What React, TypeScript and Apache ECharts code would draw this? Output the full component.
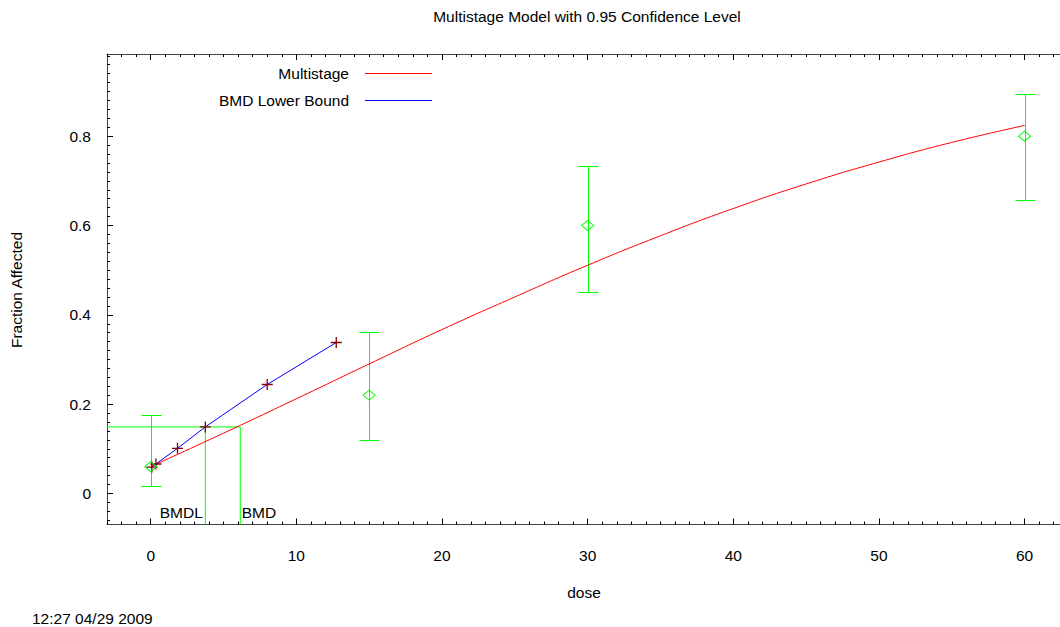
import React, { useEffect, useRef } from "react";
import * as echarts from "echarts";

const TITLE = "Multistage Model with 0.95 Confidence Level";
const X_NAME = "dose";
const Y_NAME = "Fraction Affected";
const TIMESTAMP = "12:27 04/29 2009";
const LEGEND_MODEL = "Multistage";
const LEGEND_BMDL = "BMD Lower Bound";

// observed data with confidence intervals
const obsDose = [0, 15, 30, 60];
const obsMean = [0.06, 0.22, 0.6, 0.8];
const obsLow = [0.016, 0.12, 0.452, 0.658];
const obsHigh = [0.175, 0.362, 0.733, 0.895];

// fitted multistage curve
const curveDose = [0, 5, 10, 15, 20, 25, 30, 35, 40, 45, 50, 55, 60];
const curveFrac = [0.06, 0.135, 0.212, 0.29, 0.367, 0.44, 0.511, 0.577, 0.638, 0.693, 0.742, 0.786, 0.824];

// BMD lower bound line
const bmdlDose = [0.08, 0.36, 1.84, 3.75, 8.0, 12.74];
const bmdlFrac = [0.059, 0.066, 0.101, 0.149, 0.244, 0.338];

const BMDL = 3.75;
const BMD = 6.15;
const BMR_LEVEL = 0.149;
const BMD_LABEL_Y = -0.043;

const xTickLabels = [0, 10, 20, 30, 40, 50, 60];
const yTickLabels = [0, 0.2, 0.4, 0.6, 0.8];
const X_MIN = -3;
const X_MAX = 62.5;
const Y_MIN = -0.0695;
const Y_MAX = 0.984;

const xMinorTicks: number[] = [];
for (let i = -3; i <= 62; i++) xMinorTicks.push(i);
const yMinorTicks: number[] = [];
for (let i = -3; i <= 49; i++) yMinorTicks.push(+(i * 0.02).toFixed(2));

const FONT = "'Liberation Sans', Arial, Helvetica, sans-serif";
const FS = 15.5;
const GREEN = "#00ff00";
const RED = "#ff0000";
const BLUE = "#0000ff";
const CROSS = "#8b0000";
const PLUS = "path://M4.4,0H5.6V10H4.4Z M0,4.4H10V5.6H0Z";

export default function App() {
  const ref = useRef<HTMLDivElement>(null);
  useEffect(() => {
    if (!ref.current) return;
    const chart = echarts.init(ref.current, null, { renderer: "svg" });
    const txt = { color: "#000", fontSize: FS, fontFamily: FONT };
    const gtxt = { fill: "#000", fontSize: FS, fontFamily: FONT };
    const baseX = {
      type: "value",
      min: X_MIN,
      max: X_MAX,
      splitLine: { show: false },
    };
    const baseY = {
      type: "value",
      min: Y_MIN,
      max: Y_MAX,
      splitLine: { show: false },
    };
    const option: any = {
      animation: false,
      backgroundColor: "#fff",
      grid: { left: 107, top: 54, width: 954, height: 470.5, containLabel: false, outerBoundsMode: "none" },
      xAxis: [
        {
          ...baseX,
          position: "bottom",
          axisLine: { show: true, onZero: false, lineStyle: { color: "#444", width: 1 } },
          axisTick: { show: true, inside: true, length: 3, customValues: xMinorTicks, lineStyle: { color: "#000" } },
          axisLabel: { show: true, customValues: xTickLabels, margin: 23, ...txt },
          name: X_NAME,
          nameLocation: "middle",
          nameGap: 60,
          nameTextStyle: { ...txt },
        },
        {
          ...baseX,
          position: "bottom",
          axisLine: { show: false, onZero: false },
          axisTick: { show: true, inside: true, length: 6, customValues: xTickLabels, lineStyle: { color: "#000" } },
          axisLabel: { show: false },
        },
        {
          ...baseX,
          position: "top",
          axisLine: { show: true, onZero: false, lineStyle: { color: "#444", width: 1 } },
          axisTick: { show: true, inside: true, length: 3, customValues: xMinorTicks, lineStyle: { color: "#000" } },
          axisLabel: { show: false },
        },
        {
          ...baseX,
          position: "top",
          axisLine: { show: false, onZero: false },
          axisTick: { show: true, inside: true, length: 6, customValues: xTickLabels, lineStyle: { color: "#000" } },
          axisLabel: { show: false },
        },
      ],
      yAxis: [
        {
          ...baseY,
          position: "left",
          axisLine: { show: true, onZero: false, lineStyle: { color: "#444", width: 1 } },
          axisTick: { show: true, inside: true, length: 3, customValues: yMinorTicks, lineStyle: { color: "#000" } },
          axisLabel: {
            show: true,
            customValues: yTickLabels,
            margin: 16,
            formatter: (v: number) => String(+v.toFixed(1)),
            ...txt,
          },
        },
        {
          ...baseY,
          position: "left",
          axisLine: { show: false, onZero: false },
          axisTick: { show: true, inside: true, length: 6, customValues: yTickLabels, lineStyle: { color: "#000" } },
          axisLabel: { show: false },
        },
      ],
      series: [
        {
          name: LEGEND_MODEL,
          type: "line",
          xAxisIndex: 0,
          yAxisIndex: 0,
          data: curveDose.map((d, i) => [d, curveFrac[i]]),
          smooth: true,
          showSymbol: false,
          lineStyle: { color: RED, width: 1 },
          silent: true,
          z: 3,
        },
        {
          name: LEGEND_BMDL,
          type: "line",
          xAxisIndex: 0,
          yAxisIndex: 0,
          data: bmdlDose.map((d, i) => [d, bmdlFrac[i]]),
          showSymbol: true,
          symbol: PLUS,
          symbolSize: 11,
          itemStyle: { color: CROSS, opacity: 1 },
          lineStyle: { color: BLUE, width: 1 },
          silent: true,
          z: 4,
        },
        {
          name: "BMD lines",
          type: "line",
          xAxisIndex: 0,
          yAxisIndex: 0,
          data: [
            [X_MIN, BMR_LEVEL],
            [BMD, BMR_LEVEL],
            [BMD, Y_MIN],
          ],
          showSymbol: false,
          lineStyle: { color: GREEN, width: 1 },
          silent: true,
          z: 2,
        },
        {
          name: "BMDL line",
          type: "line",
          xAxisIndex: 0,
          yAxisIndex: 0,
          data: [
            [BMDL, BMR_LEVEL],
            [BMDL, Y_MIN],
          ],
          showSymbol: false,
          lineStyle: { color: GREEN, width: 1 },
          silent: true,
          z: 2,
        },
        {
          name: "BMD labels",
          type: "scatter",
          xAxisIndex: 0,
          yAxisIndex: 0,
          symbolSize: 1,
          itemStyle: { color: "rgba(255,255,255,0)", opacity: 1 },
          silent: true,
          z: 6,
          data: [
            { value: [BMDL, BMD_LABEL_Y], label: { show: true, formatter: "BMDL", position: "left", distance: 2, opacity: 1, ...txt } },
            { value: [BMD, BMD_LABEL_Y], label: { show: true, formatter: "BMD", position: "right", distance: 1, opacity: 1, ...txt } },
          ],
        },
        {
          name: "Error bars",
          type: "custom",
          xAxisIndex: 0,
          yAxisIndex: 0,
          silent: true,
          z: 3,
          data: obsDose.map((d, i) => [d, obsLow[i], obsHigh[i]]),
          encode: { x: 0, y: [1, 2] },
          renderItem: (params: any, api: any) => {
            const x = api.value(0);
            const pLo = api.coord([x, api.value(1)]);
            const pHi = api.coord([x, api.value(2)]);
            const cx = Math.round(pLo[0]) + 0.5;
            const yl = Math.round(pLo[1]) + 0.5;
            const yh = Math.round(pHi[1]) + 0.5;
            const w = 10;
            const st = () => ({ stroke: GREEN, lineWidth: 1, fill: "none", opacity: 1 });
            return {
              type: "group",
              children: [
                { type: "line", shape: { x1: cx, y1: yl, x2: cx, y2: yh }, style: st() },
                { type: "line", shape: { x1: cx - w, y1: yl, x2: cx + w, y2: yl }, style: st() },
                { type: "line", shape: { x1: cx - w, y1: yh, x2: cx + w, y2: yh }, style: st() },
              ],
            };
          },
        },
        {
          name: "Observed",
          type: "scatter",
          xAxisIndex: 0,
          yAxisIndex: 0,
          silent: true,
          symbol: "diamond",
          symbolSize: [12, 10],
          itemStyle: { color: "rgba(0,0,0,0)", borderColor: GREEN, borderWidth: 1, opacity: 1 },
          data: obsDose.map((d, i) => [d, obsMean[i]]),
          z: 5,
        },
      ],
      graphic: [
        {
          type: "text",
          x: 587,
          y: 16,
          style: { text: TITLE, align: "center", verticalAlign: "middle", ...gtxt },
        },
        {
          type: "text",
          x: 16,
          y: 290,
          rotation: Math.PI / 2,
          style: { text: Y_NAME, align: "center", verticalAlign: "middle", ...gtxt },
        },
        {
          type: "text",
          x: 32,
          y: 618,
          style: { text: TIMESTAMP, align: "left", verticalAlign: "middle", ...gtxt },
        },
        {
          type: "text",
          x: 349,
          y: 73,
          style: { text: LEGEND_MODEL, align: "right", verticalAlign: "middle", ...gtxt },
        },
        {
          type: "line",
          shape: { x1: 365, y1: 73.5, x2: 432, y2: 73.5 },
          style: { stroke: RED, lineWidth: 1 },
        },
        {
          type: "text",
          x: 349,
          y: 100,
          style: { text: LEGEND_BMDL, align: "right", verticalAlign: "middle", ...gtxt },
        },
        {
          type: "line",
          shape: { x1: 365, y1: 100.5, x2: 432, y2: 100.5 },
          style: { stroke: BLUE, lineWidth: 1 },
        },
      ],
    };
    chart.setOption(option);
    return () => chart.dispose();
  }, []);
  return (
    <div
      ref={ref}
      style={{ position: "absolute", left: 0, top: 0, width: 1060, height: 627, background: "#fff" }}
    />
  );
}
